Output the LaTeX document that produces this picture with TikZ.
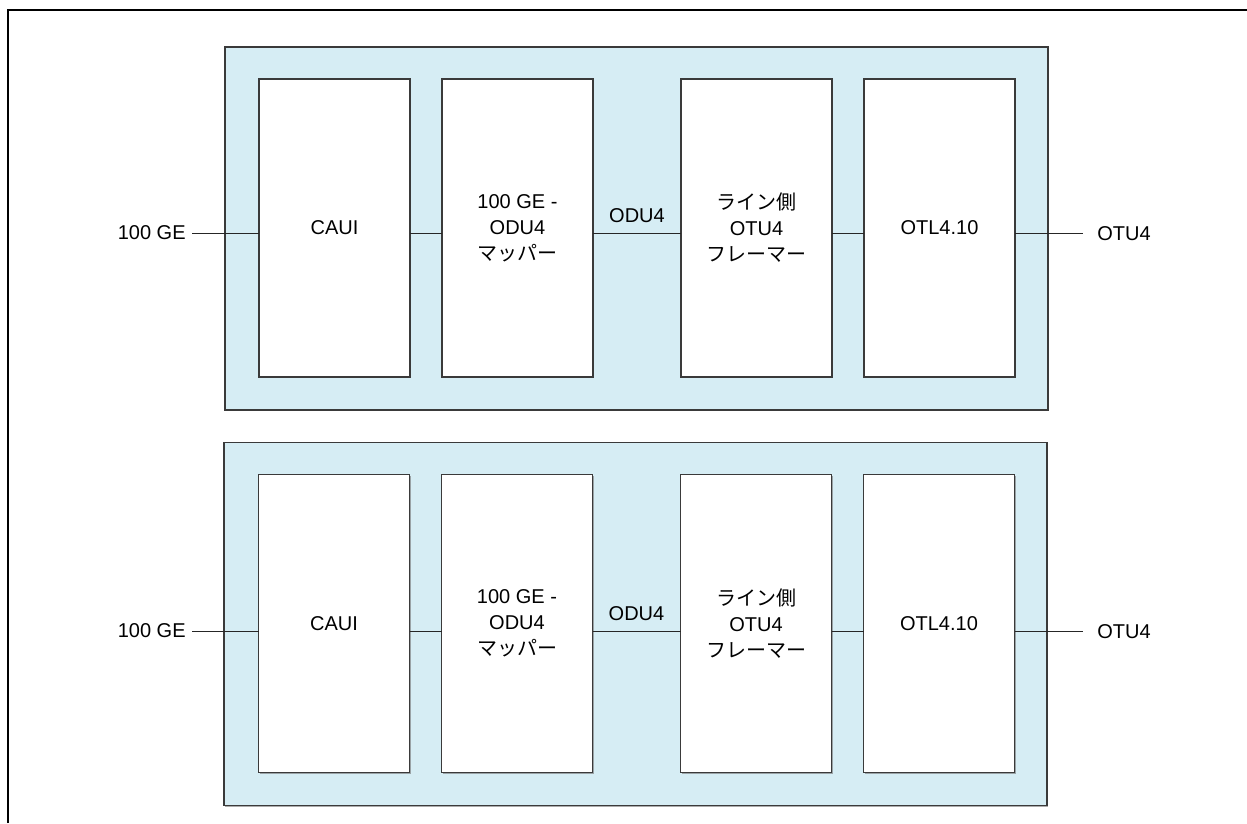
\documentclass[tikz,border=0pt]{standalone}
\usepackage{fontspec}
\setmainfont{Liberation Sans}
\newfontfamily\jpfont{Noto Sans CJK JP}
\usetikzlibrary{positioning,shadows}
\definecolor{otpanel}{RGB}{214,237,244}
\definecolor{otedge}{RGB}{58,58,58}
\tikzset{
  shd/.style={drop shadow={shadow xshift=0.7pt, shadow yshift=-0.7pt,
    fill=black!55, opacity=0.6}},
  panel/.style={
    draw=otedge, line width=0.8pt, fill=otpanel, inner sep=0pt,
    minimum width=493.8pt, minimum height=217.8pt, shd
  },
  blk/.style={
    draw=otedge, line width=0.8pt, fill=white, inner sep=0pt, outer sep=0pt,
    align=center, minimum width=90.6pt, minimum height=178.8pt, shd
  },
  wire/.style={draw=black!85, line width=0.6pt},
  lbl/.style={inner sep=0pt},
  frame/.style={draw=black, line width=1.4pt, line join=miter},
  every picture/.append style={font=\fontsize{12}{15.6}\selectfont}
}

\begin{document}
\begin{tikzpicture}[x=0.6pt, y=-0.6pt, node distance=19.2pt]
  \useasboundingbox (0,0) rectangle (1247,823);
  \draw[frame] (8,823) -- (8,10) -- (1247,10);

  % upper card
  \node[panel] (pa) at (636.5,228.5) {};
  \node[blk] (caA) at (334.5,228) {CAUI};
  \node[blk, right=of caA] (mpA) {100 GE -\\ODU4\\{\jpfont マッパー}};
  \node[blk, right=52.8pt of mpA] (frA) {{\jpfont ライン側}\\OTU4\\{\jpfont フレーマー}};
  \node[blk, right=of frA] (otA) {OTL4.10};
  \node[lbl, anchor=east, inner xsep=3.6pt] (inA) at (192,233) {100 GE};
  \node[lbl, anchor=west, inner xsep=8.4pt] (ouA) at (1083,234) {OTU4};
  \draw[wire] (inA.east) -- (inA.east -| caA.west);
  \draw[wire] (caA.east |- inA.east) -- (mpA.west |- inA.east);
  \draw[wire] (mpA.east |- inA.east) -- node[lbl, above=6pt] (odA) {ODU4} (frA.west |- inA.east);
  \draw[wire] (frA.east |- inA.east) -- (otA.west |- inA.east);
  \draw[wire] (otA.east |- inA.east) -- (ouA.west |- inA.east);

  % lower card
  \node[panel] (pb) at (635.5,624) {};
  \node[blk] (caB) at (334,623.5) {CAUI};
  \node[blk, right=of caB] (mpB) {100 GE -\\ODU4\\{\jpfont マッパー}};
  \node[blk, right=52.8pt of mpB] (frB) {{\jpfont ライン側}\\OTU4\\{\jpfont フレーマー}};
  \node[blk, right=of frB] (otB) {OTL4.10};
  \node[lbl, anchor=east, inner xsep=3.6pt] (inB) at (192,631) {100 GE};
  \node[lbl, anchor=west, inner xsep=8.4pt] (ouB) at (1083,632) {OTU4};
  \draw[wire] (inB.east) -- (inB.east -| caB.west);
  \draw[wire] (caB.east |- inB.east) -- (mpB.west |- inB.east);
  \draw[wire] (mpB.east |- inB.east) -- node[lbl, above=6pt] (odB) {ODU4} (frB.west |- inB.east);
  \draw[wire] (frB.east |- inB.east) -- (otB.west |- inB.east);
  \draw[wire] (otB.east |- inB.east) -- (ouB.west |- inB.east);
\end{tikzpicture}
\end{document}
